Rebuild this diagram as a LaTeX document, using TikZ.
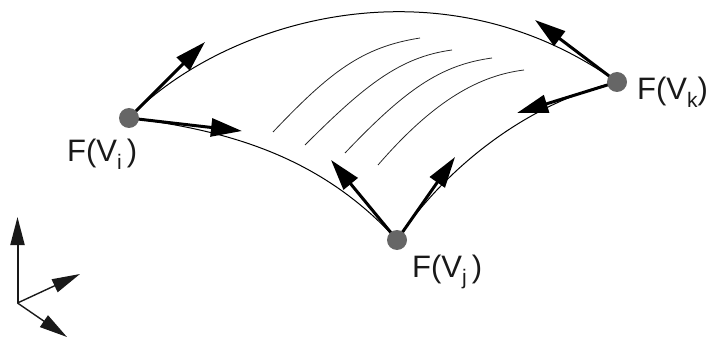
\documentclass[tikz,border=0pt]{standalone}
\usepackage{fontspec}
\setmainfont{Liberation Sans}
\usetikzlibrary{arrows.meta}
\tikzset{
  pt/.style={circle,fill=black!60,draw=none,minimum size=20pt,inner sep=0pt},
  lab/.style={inner sep=0pt,font=\fontsize{31}{33}\selectfont,text=black!90},
  edgeline/.style={line width=1pt,black},
  hatchline/.style={line width=0.8pt,black!85},
  vec/.style={line width=3pt,-{Triangle[length=31pt,width=18pt]}},
  axis/.style={line width=1.4pt,black!90,-{Triangle[length=28pt,width=14pt]}}
}
\newcommand{\sbs}[1]{\raisebox{-0.25em}{\fontsize{21}{22}\selectfont #1}}
\begin{document}
\begin{tikzpicture}[x=1pt,y=-1pt]
\useasboundingbox (0,0) rectangle (709,339);
\coordinate (vi) at (129,118);
\coordinate (vj) at (397,240);
\coordinate (vk) at (617,82);
% surface boundary
\draw[edgeline] (vi) .. controls (222,22) and (438,-46) .. (vk);
\draw[edgeline] (vi) .. controls (225,130) and (320,155) .. (vj);
\draw[edgeline] (vj) .. controls (440,175) and (520,105) .. (vk);
% iso-lines
\coordinate (a1) at (273,132); \coordinate (a2) at (420,38);
\coordinate (b1) at (305,145); \coordinate (b2) at (452,50);
\coordinate (c1) at (345,153); \coordinate (c2) at (492,58);
\coordinate (d1) at (378,165); \coordinate (d2) at (524,70);
\draw[hatchline] (a1) .. controls (330,72) and (362,47) .. (a2);
\draw[hatchline] (b1) .. controls (365,85) and (400,57) .. (b2);
\draw[hatchline] (c1) .. controls (405,90) and (440,65) .. (c2);
\draw[hatchline] (d1) .. controls (430,105) and (475,76) .. (d2);
% vectors
\coordinate (vi1) at (205,42); \coordinate (vi2) at (242,131);
\coordinate (vj1) at (331,160); \coordinate (vj2) at (455,157);
\coordinate (vk1) at (535,20); \coordinate (vk2) at (517,113);
\draw[vec] (vi) -- (vi1);
\draw[vec] (vi) -- (vi2);
\draw[vec] (vj) -- (vj1);
\draw[vec] (vj) -- (vj2);
\draw[vec] (vk) -- (vk1);
\draw[vec] (vk) -- (vk2);
\node[pt] (Ni) at (vi) {};
\node[pt] (Nj) at (vj) {};
\node[pt] (Nk) at (vk) {};
\node[lab,anchor=base west] (Li) at (67,162) {F(V\sbs{i}\,)};
\node[lab,anchor=base west] (Lj) at (412,277) {F(V\sbs{j}\,)};
\node[lab,anchor=base west] (Lk) at (637,100) {F(V\sbs{k})};
% axes
\coordinate (o) at (17.5,303);
\coordinate (ax) at (17.5,217);
\coordinate (ay) at (80,274);
\coordinate (az) at (67,337);
\draw[axis,line width=2pt] (o) -- (ax);
\draw[axis] (o) -- (ay);
\draw[axis] (o) -- (az);
\end{tikzpicture}
\end{document}
